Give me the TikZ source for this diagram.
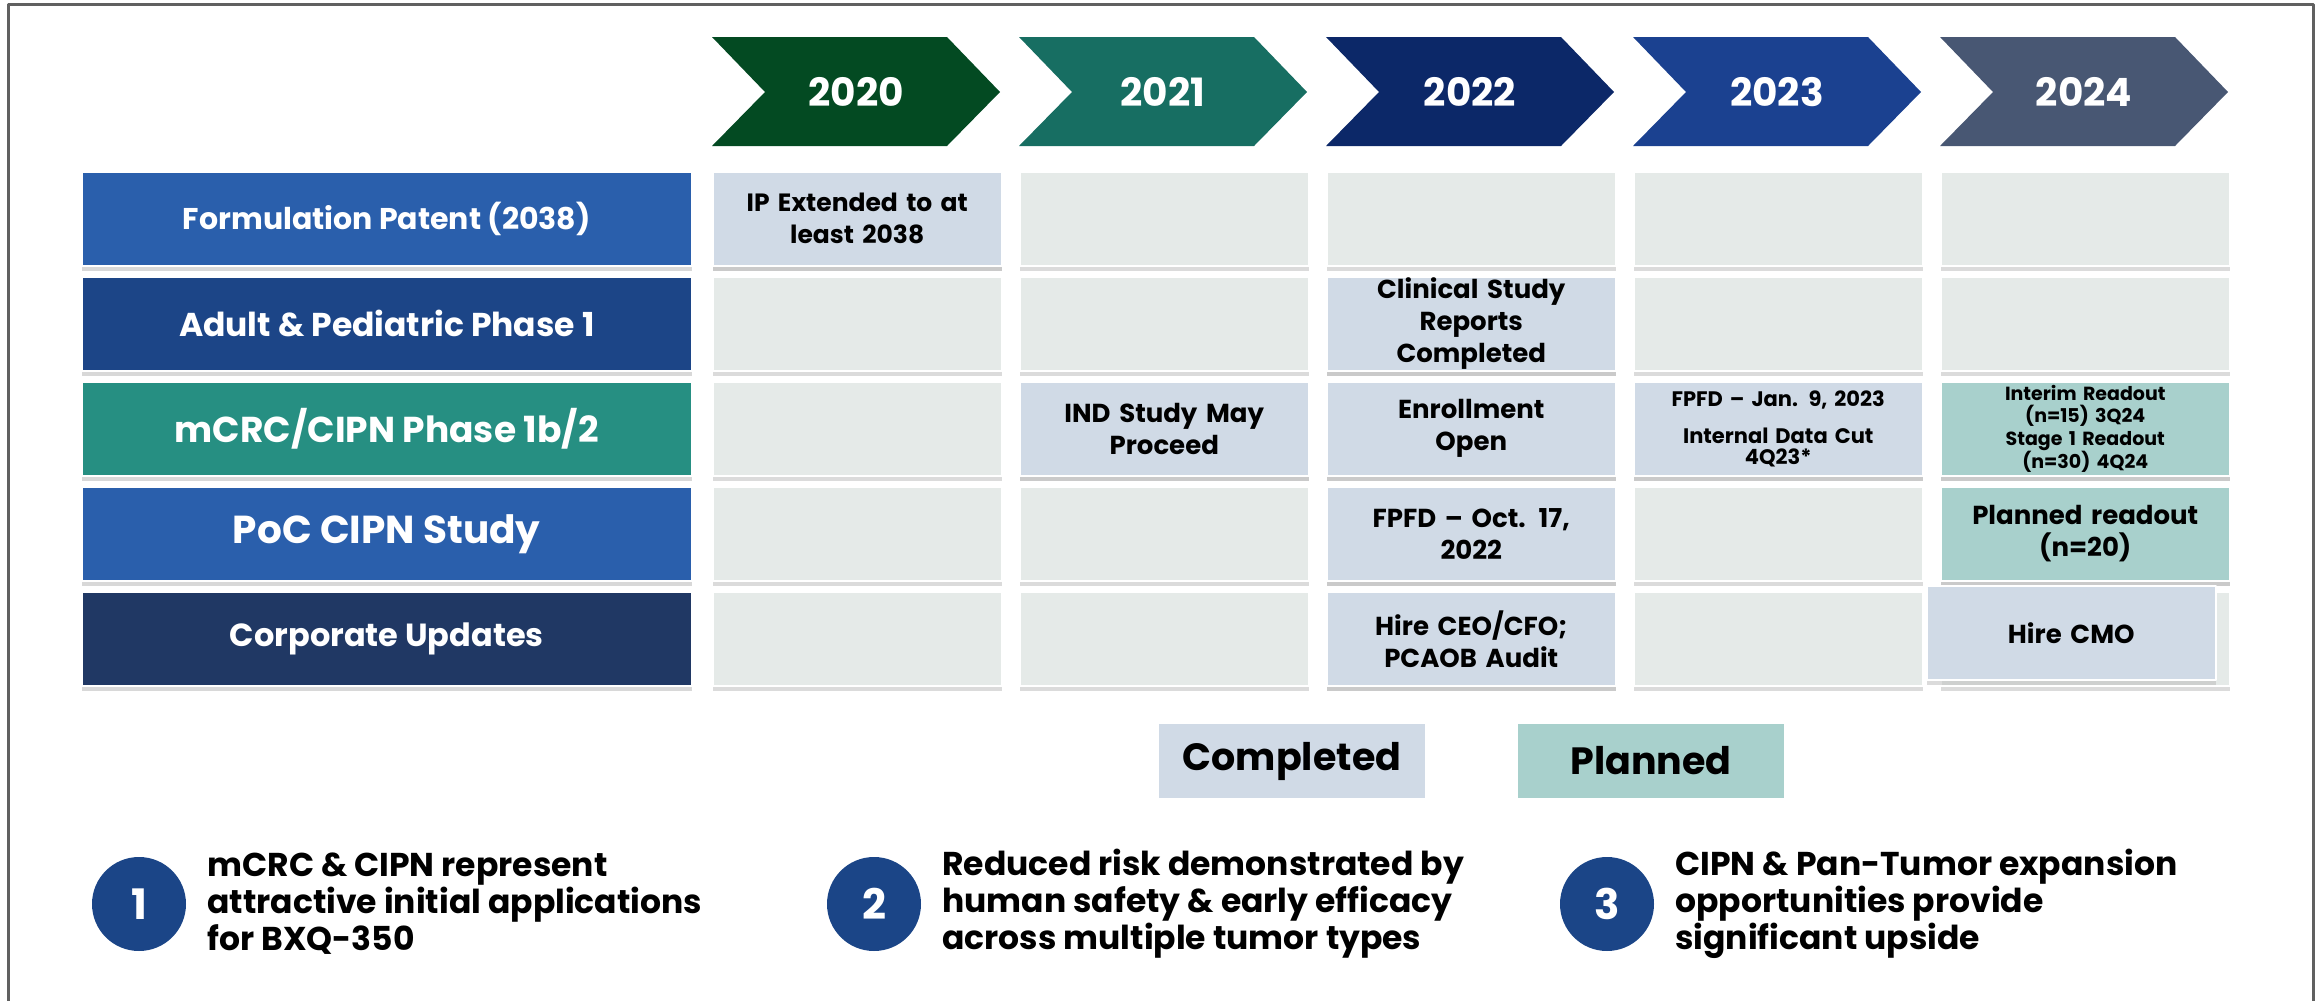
\documentclass[tikz,border=0pt]{standalone}
\usepackage{fontspec}
\setmainfont{Poppins}
\usetikzlibrary{positioning,shadows}
\definecolor{yrA}{HTML}{034A22}
\definecolor{yrB}{HTML}{176E62}
\definecolor{yrC}{HTML}{0C2868}
\definecolor{yrD}{HTML}{1B4190}
\definecolor{yrE}{HTML}{485773}
\definecolor{lblA}{HTML}{2A5FAC}
\definecolor{lblB}{HTML}{1C4587}
\definecolor{lblC}{HTML}{268F82}
\definecolor{lblD}{HTML}{203864}
\definecolor{cellgray}{HTML}{E5EAE8}
\definecolor{donebg}{HTML}{D0DAE6}
\definecolor{planbg}{HTML}{A8D0CC}
\definecolor{numblue}{HTML}{1B4587}
\definecolor{framegray}{HTML}{606060}
\newcommand\fsz[2]{\fontsize{#1}{#2}\selectfont}
\begin{document}
\begin{tikzpicture}[x=1pt, y=-1pt, line join=round,
  yrtext/.style={text=white, font=\bfseries\fsz{39}{42}},
  lbl/.style={anchor=north west, minimum width=610pt, minimum height=94pt, inner sep=0pt, text=white, draw=white, line width=1.5pt, drop shadow={shadow xshift=0pt, shadow yshift=-5pt, fill=black!30}},
  cell/.style={anchor=north west, minimum width=289pt, minimum height=94pt, inner sep=0pt, text width=275pt, align=center, fill=cellgray, draw=white, line width=1.5pt, drop shadow={shadow xshift=0pt, shadow yshift=-5pt, fill=black!28}, font=\bfseries\fsz{26}{32}},
  done/.style={cell, fill=donebg},
  plan/.style={cell, fill=planbg},
  key/.style={minimum width=266pt, minimum height=74pt, inner sep=0pt, font=\bfseries\fsz{38}{42}},
  num/.style={circle, fill=numblue, minimum size=94pt, inner sep=0pt, text=white, font=\bfseries\fsz{42}{46}},
  note/.style={anchor=west, align=left, inner sep=0pt, font=\bfseries\fsz{33}{37}}]
\useasboundingbox (0,0) rectangle (2316,1001);
\draw[framegray, line width=3pt] (8,1001) -- (8,4) -- (2313,4) -- (2313,1001);
% years
\foreach \yr/\col [count=\i] in {2020/yrA, 2021/yrB, 2022/yrC, 2023/yrD, 2024/yrE}{
  \pgfmathsetmacro\xl{712+307*(\i-1)}
  \fill[\col] (\xl,37) -- ++(235,0) -- ++(53,55) -- ++(-53,54) -- ++(-235,0) -- ++(53,-54) -- cycle;
  \node[yrtext] (y\i) at (\xl+144,92) {\yr};
}
% row labels
\node[lbl, fill=lblA, font=\bfseries\fsz{30}{34}] (fp) at (81,171) {Formulation Patent (2038)};
\node[lbl, fill=lblB, font=\bfseries\fsz{33}{36}] (ap) at (81,276) {Adult \& Pediatric Phase 1};
\node[lbl, fill=lblC, font=\bfseries\fsz{36}{40}] (mc) at (81,381) {mCRC/CIPN Phase 1b/2};
\node[lbl, fill=lblA, font=\bfseries\fsz{39}{42}] (pc) at (81,486) {PoC CIPN Study};
\node[lbl, fill=lblD, font=\bfseries\fsz{32}{36}] (cu) at (81,591) {Corporate Updates};
% empty grid
\foreach \i in {1,...,5}
  \foreach \j in {1,...,5}
    \node[cell] (c\i\j) at ({712+307*(\i-1)},{171+105*(\j-1)}) {};
% milestones
\node[done, font=\bfseries\fsz{25}{32}] (ip) at (c11.north west) {IP Extended to at\\least 2038};
\node[done] (csr) at (c32.north west) {Clinical Study\\Reports\\Completed};
\node[done] (ind) at (c23.north west) {IND Study May\\Proceed};
\node[done] (enr) at (c33.north west) {Enrollment\\Open};
\node[done, font=\bfseries\fsz{21}{21}] (jan) at (c43.north west) {FPFD – Jan. 9, 2023\\[16pt]Internal Data Cut\\4Q23*};
\node[plan, font=\bfseries\fsz{19}{22.5}] (int) at (c53.north west) {Interim Readout\\(n=15) 3Q24\\Stage 1 Readout\\(n=30) 4Q24};
\node[done] (oct) at (c34.north west) {FPFD – Oct. 17,\\2022};
\node[plan] (prd) at (c54.north west) {Planned readout\\(n=20)};
\node[done] (ceo) at (c35.north west) {Hire CEO/CFO;\\PCAOB Audit};
\node[done] (cmo) at (1926,585) {Hire CMO};
% legend
\node[key, fill=donebg] (kd) at (1292,761) {Completed};
\node[key, fill=planbg] (kp) at (1651,761) {Planned};
% takeaways
\node[num] (n1) at (139,904) {1};
\node[note, right=21pt of n1] (t1) {mCRC \& CIPN represent\\attractive initial applications\\for BXQ-350};
\node[num] (n2) at (874,904) {2};
\node[note, right=21pt of n2] (t2) {Reduced risk demonstrated by\\human safety \& early efficacy\\across multiple tumor types};
\node[num] (n3) at (1607,904) {3};
\node[note, right=21pt of n3] (t3) {CIPN \& Pan-Tumor expansion\\opportunities provide\\significant upside};
\end{tikzpicture}
\end{document}
